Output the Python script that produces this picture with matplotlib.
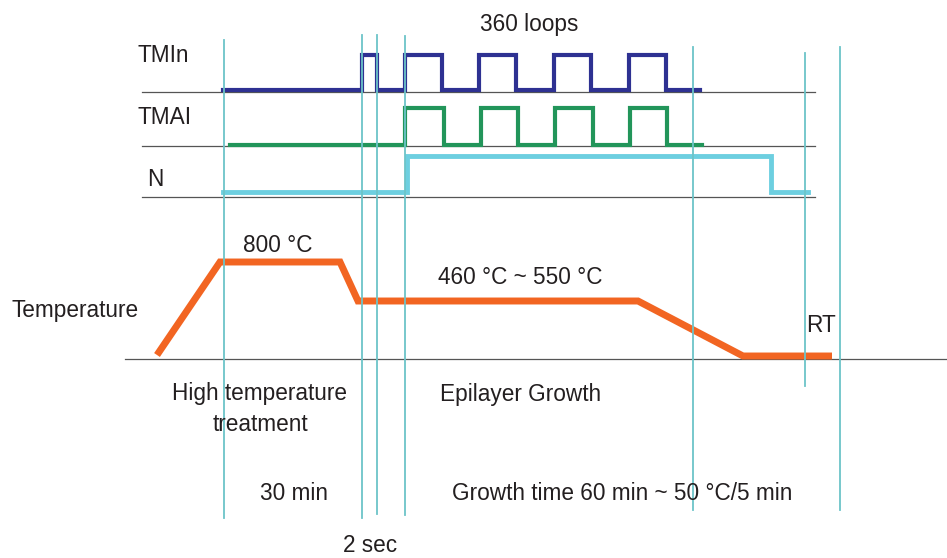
import matplotlib
matplotlib.use("Agg")
from matplotlib import pyplot as plt

plt.rcParams["font.family"] = ["Liberation Sans", "DejaVu Sans"]

# time markers (x position of vertical cyan lines), top and bottom
marker_x = [224, 362, 377, 405, 693, 805, 840]
marker_top = [40, 35, 35, 36, 47, 53, 47]
marker_bottom = [518, 518, 514, 515, 510, 386, 510]

# signal rows: baseline y
row_base = [92, 146, 197]

# TMIn: start, short pulse, then loop pulses, end
tmin_start, tmin_end = 223, 700
tmin_pulses = [(362, 377), (405, 442), (479, 516), (554, 591), (629, 666)]
tmin_low, tmin_high = 90, 55

# TMAl
tmal_start, tmal_end = 230, 702
tmal_pulses = [(405, 444), (481, 518), (555, 593), (630, 667)]
tmal_low, tmal_high = 145, 108

# N
n_start, n_end = 223, 808
n_pulses = [(407, 771)]
n_low, n_high = 192, 156

# temperature profile
temp_x = [157, 220, 340, 358, 638, 743, 832]
temp_y = [355, 262, 262, 301, 301, 356, 356]
temp_base = 359


def square_wave(start, end, pulses, low, high):
    xs, ys = [start], [low]
    for a, b in pulses:
        xs += [a, a, b, b]
        ys += [low, high, high, low]
    xs.append(end)
    ys.append(low)
    return xs, ys


fig = plt.figure(figsize=(9.47, 5.58), dpi=100)
ax = fig.add_axes([0, 0, 1, 1])
ax.set_xlim(0, 947)
ax.set_ylim(558, 0)
ax.axis("off")

gray = "#555555"
cyan_v = "#6cc4c8"

# baselines
for y in row_base:
    ax.plot([142, 815], [y, y], color=gray, lw=0.9, zorder=1)
ax.plot([125, 947], [temp_base, temp_base], color=gray, lw=0.9, zorder=1)

# vertical markers
for x, t, b in zip(marker_x, marker_top, marker_bottom):
    ax.plot([x, x], [t, b], color=cyan_v, lw=1.3, zorder=3)

# signals
xs, ys = square_wave(tmin_start, tmin_end, tmin_pulses, tmin_low, tmin_high)
ax.plot(xs, ys, color="#2e3192", lw=3, solid_joinstyle="miter", zorder=2)
xs, ys = square_wave(tmal_start, tmal_end, tmal_pulses, tmal_low, tmal_high)
ax.plot(xs, ys, color="#22955a", lw=3, solid_joinstyle="miter", zorder=2)
xs, ys = square_wave(n_start, n_end, n_pulses, n_low, n_high)
ax.plot(xs, ys, color="#6dcfe0", lw=3.5, solid_joinstyle="miter", zorder=2)

# temperature
ax.plot(temp_x, temp_y, color="#f26522", lw=5, solid_joinstyle="miter",
        solid_capstyle="butt", zorder=2)

fs = 16.3
tc = "#231f20"
ax.text(137, 55, "TMIn", fontsize=fs, color=tc, va="center")
ax.text(137, 118, "TMAI", fontsize=fs, color=tc, va="center")
ax.text(147, 180, "N", fontsize=fs, color=tc, va="center")
ax.text(529, 25, "360 loops", fontsize=fs, color=tc, va="center", ha="center")
ax.text(278, 245, "800 °C", fontsize=fs, color=tc, va="center", ha="center")
ax.text(520, 277, "460 °C ~ 550 °C", fontsize=fs, color=tc, va="center", ha="center")
ax.text(821, 325, "RT", fontsize=fs, color=tc, va="center", ha="center")
ax.text(12, 311, "Temperature", fontsize=fs, color=tc, va="center")
ax.text(260, 409, "High temperature\ntreatment", fontsize=fs, color=tc,
        va="center", ha="center", linespacing=1.4)
ax.text(521, 395, "Epilayer Growth", fontsize=fs, color=tc, va="center", ha="center")
ax.text(294, 493, "30 min", fontsize=fs, color=tc, va="center", ha="center")
ax.text(622, 493, "Growth time 60 min ~ 50 °C/5 min", fontsize=fs, color=tc,
        va="center", ha="center")
ax.text(370, 546, "2 sec", fontsize=fs, color=tc, va="center", ha="center")

fig.savefig("out.png", dpi=100)
